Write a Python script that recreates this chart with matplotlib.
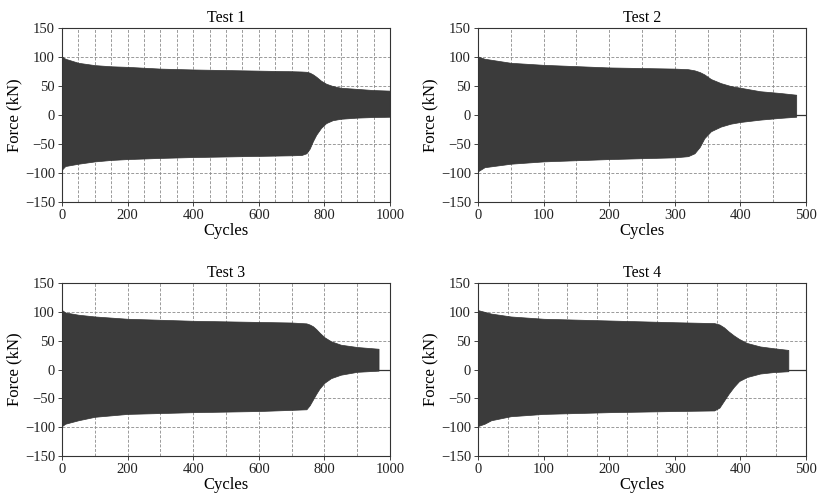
import matplotlib
matplotlib.use("Agg")
import matplotlib.pyplot as plt
import numpy as np
from matplotlib.ticker import MultipleLocator

plt.rcParams['font.family'] = ['Liberation Serif', 'DejaVu Serif']

# Peak force envelopes (kN) per test, sampled at selected cycle counts
t1_cycles = [0, 10, 50, 100, 150, 200, 300, 400, 500, 600, 700, 730, 745, 755, 765, 775, 790,
             805, 825, 850, 900, 950, 1000]
t1_upper = [101, 97, 90, 86, 84, 83, 80, 78.5, 77.5, 76.5, 75.5, 75, 74.5, 73, 70, 66, 59,
            54, 50, 47, 45, 43, 42]
t1_lower = [-94, -88, -84, -80, -77.5, -76, -74, -72.5, -71.5, -70.5, -69.5, -69, -66, -58, -45, -34, -22,
            -14, -9, -6.5, -4.5, -3.5, -3]

t2_cycles = [0, 10, 50, 100, 200, 300, 320, 330, 338, 345, 355, 370, 385, 400, 430, 460, 485]
t2_upper = [101, 97, 90, 86.5, 82, 80, 79, 77, 74, 70, 62, 55, 50, 47, 41, 38, 35]
t2_lower = [-97, -90, -84, -80, -76, -73, -71, -66, -55, -40, -28, -20, -15, -12, -8, -5, -3]

t3_cycles = [0, 10, 50, 100, 200, 400, 600, 700, 745, 755, 765, 775, 785, 800, 820, 850, 900, 965]
t3_upper = [103, 99, 95, 92, 88, 84.5, 82.5, 81.5, 80, 78, 75, 70, 64, 56, 49, 43, 39, 36]
t3_lower = [-98, -94, -88, -82, -77, -74, -72, -70, -69, -62, -52, -42, -33, -23, -15, -9, -4, -2]

t4_cycles = [0, 10, 20, 50, 100, 200, 300, 360, 368, 375, 382, 390, 398, 410, 430, 450, 473]
t4_upper = [103, 100, 97, 92, 88, 85, 82, 80.5, 78, 73, 66, 59, 53, 46, 40, 37, 34]
t4_lower = [-98, -94, -88, -81, -77, -74, -72, -71, -66, -54, -42, -30, -20, -13, -7, -4.5, -3]

# Residual (post-failure) load record
t2_tail = ([485, 500], [0, 0])
t3_tail = ([965, 1000], [0, 0])
t4_tail = ([473, 500], [0, 0])

titles = ["Test 1", "Test 2", "Test 3", "Test 4"]
x_limits = [1000, 500, 1000, 500]
x_major = [200, 100, 200, 100]

fig = plt.figure(figsize=(8.17, 4.94), dpi=100)
boxes = [
    [0.0759, 0.5911, 0.4015, 0.3522],
    [0.5851, 0.5911, 0.4015, 0.3522],
    [0.0759, 0.0769, 0.4015, 0.3502],
    [0.5851, 0.0769, 0.4015, 0.3502],
]

series = [
    (t1_cycles, t1_upper, t1_lower, None),
    (t2_cycles, t2_upper, t2_lower, t2_tail),
    (t3_cycles, t3_upper, t3_lower, t3_tail),
    (t4_cycles, t4_upper, t4_lower, t4_tail),
]

grid_steps = [50, 50, 100, None]
fill_color = '#3b3b3b'
grid_kw = dict(color='#8a8a8a', linestyle=(0, (3.5, 2)), linewidth=0.6, zorder=1)

for i, box in enumerate(boxes):
    ax = fig.add_axes(box)
    cyc, up, lo, tail = series[i]
    ax.fill_between(cyc, lo, up, color=fill_color, linewidth=0.5, edgecolor='#333333', zorder=2)
    if tail is not None:
        ax.plot(tail[0], tail[1], color='#333333', linewidth=0.9, zorder=2)

    ax.set_xlim(0, x_limits[i])
    ax.set_ylim(-150, 150)
    ax.xaxis.set_major_locator(MultipleLocator(x_major[i]))
    ax.yaxis.set_major_locator(MultipleLocator(50))

    # dashed reference grid
    if grid_steps[i] is not None:
        vpos = np.arange(grid_steps[i], x_limits[i], grid_steps[i])
    else:
        vpos = np.linspace(0, x_limits[i], 12)[1:-1]
    for v in vpos:
        ax.axvline(v, **grid_kw)
    for h in [-100, -50, 0, 50, 100]:
        ax.axhline(h, **grid_kw)

    ax.tick_params(direction='out', length=3, width=0.6, labelsize=10.5, pad=2, colors='#222222')
    for s in ax.spines.values():
        s.set_linewidth(0.8)
        s.set_color('#333333')
    ax.set_title(titles[i], fontsize=11.5, pad=4)
    ax.set_xlabel("Cycles", fontsize=12, labelpad=1)
    ax.set_ylabel("Force (kN)", fontsize=12, labelpad=2)

fig.savefig("out.png", dpi=100)
